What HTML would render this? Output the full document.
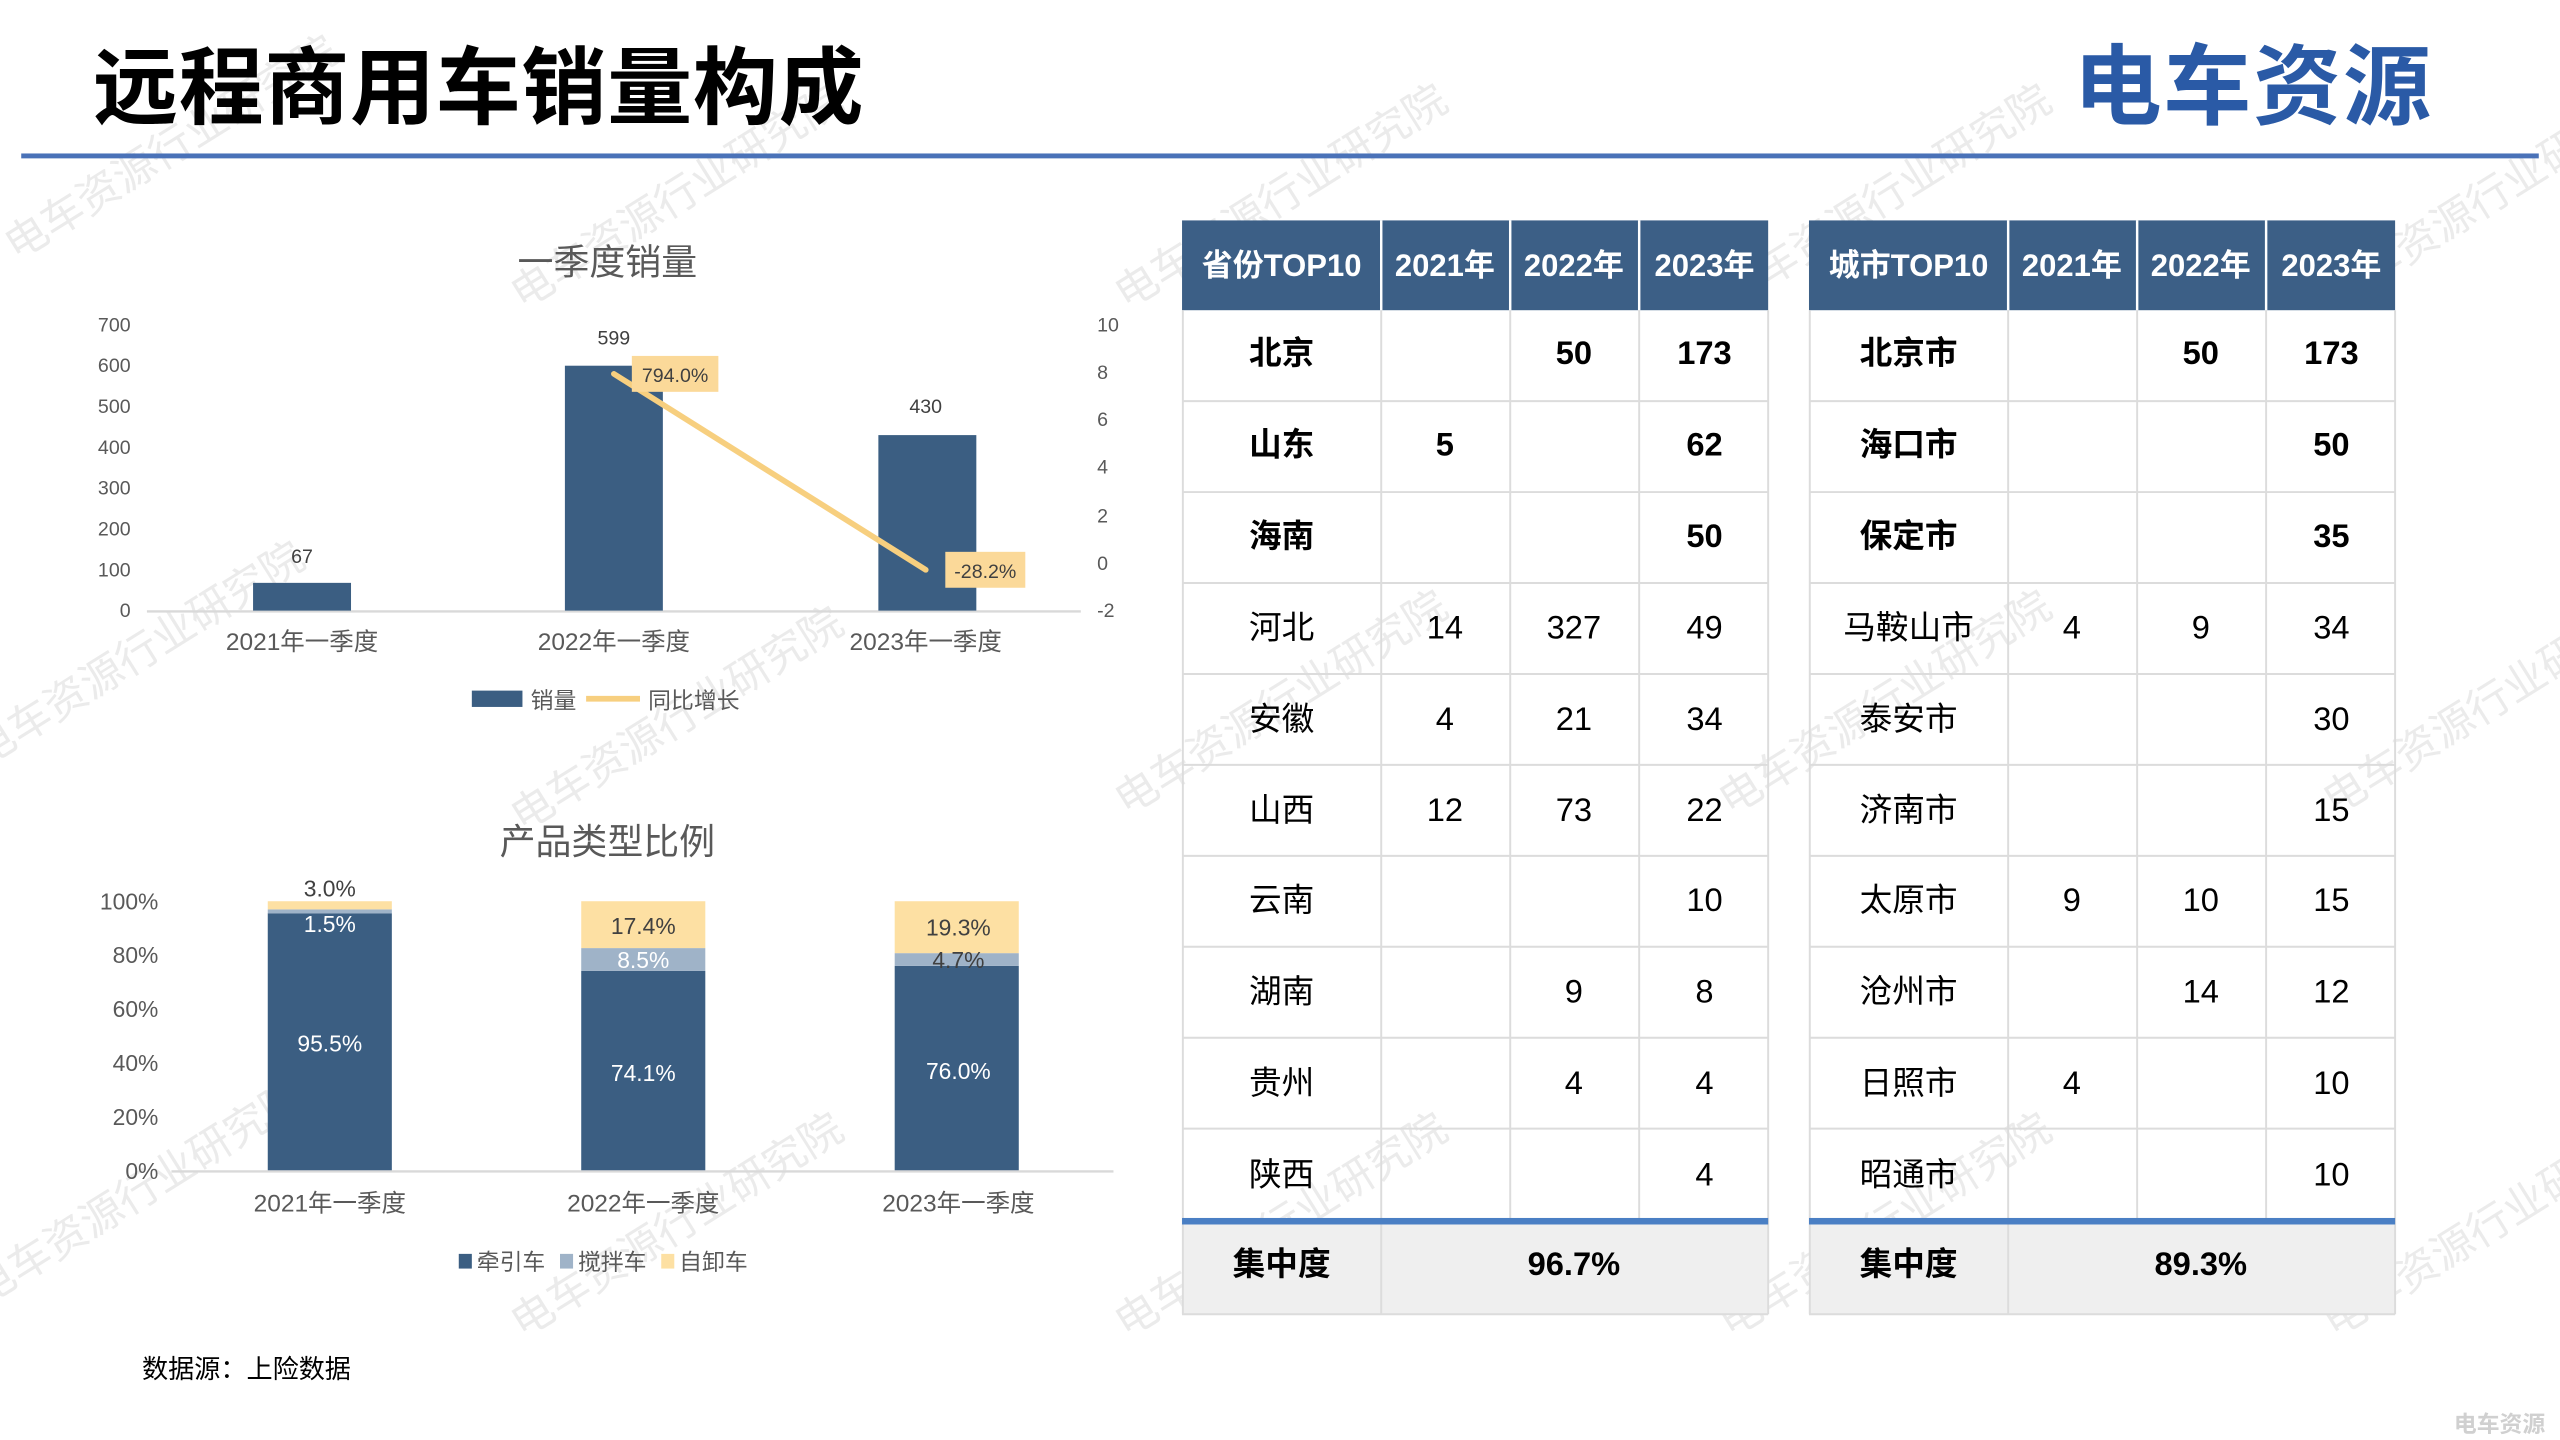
<!DOCTYPE html>
<html><head><meta charset="utf-8"><style>
html,body{margin:0;padding:0;background:#fff;width:2560px;height:1440px;overflow:hidden}
svg{display:block}
text{font-family:"Liberation Sans","Noto Sans CJK SC",sans-serif}
</style></head><body>
<svg width="2560" height="1440" viewBox="0 0 1568 882" xmlns="http://www.w3.org/2000/svg">
<rect width="1568" height="882" fill="#fff"/>
<!-- watermarks -->
<g fill="#ebebeb" font-size="26">
<text transform="translate(10,160) rotate(-32)">电车资源行业研究院</text>
<text transform="translate(320,190) rotate(-32)">电车资源行业研究院</text>
<text transform="translate(690,190) rotate(-32)">电车资源行业研究院</text>
<text transform="translate(1060,190) rotate(-32)">电车资源行业研究院</text>
<text transform="translate(1430,190) rotate(-32)">电车资源行业研究院</text>
<text transform="translate(-10,470) rotate(-32)">电车资源行业研究院</text>
<text transform="translate(320,510) rotate(-32)">电车资源行业研究院</text>
<text transform="translate(690,500) rotate(-32)">电车资源行业研究院</text>
<text transform="translate(1060,500) rotate(-32)">电车资源行业研究院</text>
<text transform="translate(1430,500) rotate(-32)">电车资源行业研究院</text>
<text transform="translate(-10,800) rotate(-32)">电车资源行业研究院</text>
<text transform="translate(320,820) rotate(-32)">电车资源行业研究院</text>
<text transform="translate(690,820) rotate(-32)">电车资源行业研究院</text>
<text transform="translate(1060,820) rotate(-32)">电车资源行业研究院</text>
<text transform="translate(1430,820) rotate(-32)">电车资源行业研究院</text>
</g>
<!-- header -->
<text x="57" y="72" font-size="52" font-weight="bold" fill="#000" letter-spacing="0.5">远程商用车销量构成</text>
<text x="1270" y="72" font-size="54" font-weight="bold" fill="#2a5aa6" letter-spacing="1">电车资源</text>
<rect x="13" y="94" width="1542" height="3" fill="#4a72b8"/>

<!-- Chart 1 -->
<text x="372" y="168" font-size="22" fill="#595959" text-anchor="middle">一季度销量</text>
<g font-size="12" fill="#595959" text-anchor="end">
<text x="80" y="203">700</text><text x="80" y="228">600</text><text x="80" y="253">500</text><text x="80" y="278">400</text><text x="80" y="303">300</text><text x="80" y="328">200</text><text x="80" y="353">100</text><text x="80" y="378">0</text>
</g>
<g font-size="12" fill="#595959" text-anchor="start">
<text x="672" y="203">10</text><text x="672" y="232">8</text><text x="672" y="261">6</text><text x="672" y="290">4</text><text x="672" y="320">2</text><text x="672" y="349">0</text><text x="672" y="378">-2</text>
</g>
<line x1="90" y1="374.5" x2="662" y2="374.5" stroke="#d9d9d9" stroke-width="1.5"/>
<g fill="#3b5e82">
<rect x="155" y="357" width="60" height="17"/>
<rect x="346" y="224" width="60" height="150"/>
<rect x="538" y="266.5" width="60" height="107.5"/>
</g>
<g font-size="12" fill="#404040" text-anchor="middle">
<text x="185" y="345">67</text><text x="376" y="211">599</text><text x="567" y="253">430</text>
</g>
<line x1="376" y1="229" x2="567" y2="349" stroke="#f7cf7f" stroke-width="3.5" stroke-linecap="round"/>
<rect x="387" y="218" width="53" height="22" fill="#fbd999"/>
<text x="413.5" y="234" font-size="12" fill="#404040" text-anchor="middle">794.0%</text>
<rect x="579" y="338" width="49" height="22" fill="#fbd999"/>
<text x="603.5" y="354" font-size="12" fill="#404040" text-anchor="middle">-28.2%</text>
<g font-size="15" fill="#595959" text-anchor="middle">
<text x="185" y="398">2021年一季度</text><text x="376" y="398">2022年一季度</text><text x="567" y="398">2023年一季度</text>
</g>
<rect x="289" y="423" width="31" height="10" fill="#3b5e82"/>
<text x="325" y="434" font-size="14" fill="#595959">销量</text>
<line x1="359" y1="428" x2="392" y2="428" stroke="#f7cf7f" stroke-width="3.5"/>
<text x="397" y="434" font-size="14" fill="#595959">同比增长</text>

<!-- Chart 2 -->
<text x="372" y="523" font-size="22" fill="#595959" text-anchor="middle">产品类型比例</text>
<g font-size="14" fill="#595959" text-anchor="end">
<text x="97" y="557">100%</text><text x="97" y="590">80%</text><text x="97" y="623">60%</text><text x="97" y="656">40%</text><text x="97" y="689">20%</text><text x="97" y="722">0%</text>
</g>
<rect x="164" y="559.4" width="76" height="157.6" fill="#3b5e82"/>
<rect x="164" y="557" width="76" height="2.5" fill="#9fb3c8"/>
<rect x="164" y="552" width="76" height="5" fill="#fde0a3"/>
<rect x="356" y="594.7" width="76" height="122.3" fill="#3b5e82"/>
<rect x="356" y="580.7" width="76" height="14" fill="#9fb3c8"/>
<rect x="356" y="552" width="76" height="28.7" fill="#fde0a3"/>
<rect x="548" y="591.6" width="76" height="125.4" fill="#3b5e82"/>
<rect x="548" y="583.8" width="76" height="7.8" fill="#9fb3c8"/>
<rect x="548" y="552" width="76" height="31.8" fill="#fde0a3"/>
<line x1="105" y1="717.5" x2="682" y2="717.5" stroke="#d9d9d9" stroke-width="1.5"/>
<g font-size="14" text-anchor="middle">
<text x="202" y="549" fill="#404040">3.0%</text>
<text x="202" y="571" fill="#fff">1.5%</text>
<text x="202" y="644" fill="#fff">95.5%</text>
<text x="394" y="572" fill="#404040">17.4%</text>
<text x="394" y="593" fill="#fff">8.5%</text>
<text x="394" y="662" fill="#fff">74.1%</text>
<text x="587" y="573" fill="#404040">19.3%</text>
<text x="587" y="593" fill="#404040">4.7%</text>
<text x="587" y="661" fill="#fff">76.0%</text>
</g>
<g font-size="15" fill="#595959" text-anchor="middle">
<text x="202" y="742">2021年一季度</text><text x="394" y="742">2022年一季度</text><text x="587" y="742">2023年一季度</text>
</g>
<rect x="281" y="768" width="8" height="9" fill="#3b5e82"/>
<text x="292" y="778" font-size="14" fill="#595959">牵引车</text>
<rect x="343" y="768" width="8" height="9" fill="#9fb3c8"/>
<text x="354" y="778" font-size="14" fill="#595959">搅拌车</text>
<rect x="405" y="768" width="8" height="9" fill="#fde0a3"/>
<text x="416" y="778" font-size="14" fill="#595959">自卸车</text>
<text x="87" y="844" font-size="16" fill="#000">数据源：上险数据</text>

<!-- Tables -->
<g>
<rect x="724" y="135" width="359" height="55" fill="#3c5f86"/>
<rect x="1108" y="135" width="359" height="55" fill="#3c5f86"/>
<rect x="724" y="750" width="359" height="55" fill="#efefef"/>
<rect x="1108" y="750" width="359" height="55" fill="#efefef"/>
<g stroke="#dcdcdc" stroke-width="1.2">
<line x1="724" y1="245.7" x2="1083" y2="245.7"/><line x1="724" y1="301.4" x2="1083" y2="301.4"/><line x1="724" y1="357.1" x2="1083" y2="357.1"/><line x1="724" y1="412.8" x2="1083" y2="412.8"/><line x1="724" y1="468.5" x2="1083" y2="468.5"/><line x1="724" y1="524.2" x2="1083" y2="524.2"/><line x1="724" y1="579.9" x2="1083" y2="579.9"/><line x1="724" y1="635.6" x2="1083" y2="635.6"/><line x1="724" y1="691.3" x2="1083" y2="691.3"/>
<line x1="1108" y1="245.7" x2="1467" y2="245.7"/><line x1="1108" y1="301.4" x2="1467" y2="301.4"/><line x1="1108" y1="357.1" x2="1467" y2="357.1"/><line x1="1108" y1="412.8" x2="1467" y2="412.8"/><line x1="1108" y1="468.5" x2="1467" y2="468.5"/><line x1="1108" y1="524.2" x2="1467" y2="524.2"/><line x1="1108" y1="579.9" x2="1467" y2="579.9"/><line x1="1108" y1="635.6" x2="1467" y2="635.6"/><line x1="1108" y1="691.3" x2="1467" y2="691.3"/>
<line x1="724.5" y1="190" x2="724.5" y2="805"/><line x1="846" y1="190" x2="846" y2="805"/><line x1="925" y1="190" x2="925" y2="747"/><line x1="1004" y1="190" x2="1004" y2="747"/><line x1="1083" y1="190" x2="1083" y2="805"/>
<line x1="1108.5" y1="190" x2="1108.5" y2="805"/><line x1="1230" y1="190" x2="1230" y2="805"/><line x1="1309" y1="190" x2="1309" y2="747"/><line x1="1388" y1="190" x2="1388" y2="747"/><line x1="1467" y1="190" x2="1467" y2="805"/>
<line x1="724" y1="805" x2="1083" y2="805"/><line x1="1108" y1="805" x2="1467" y2="805"/>
</g>
<g stroke="#fff" stroke-width="1.5">
<line x1="846" y1="135" x2="846" y2="190"/><line x1="925" y1="135" x2="925" y2="190"/><line x1="1004" y1="135" x2="1004" y2="190"/>
<line x1="1230" y1="135" x2="1230" y2="190"/><line x1="1309" y1="135" x2="1309" y2="190"/><line x1="1388" y1="135" x2="1388" y2="190"/>
</g>
<rect x="724" y="746" width="359" height="4" fill="#4a7fc4"/>
<rect x="1108" y="746" width="359" height="4" fill="#4a7fc4"/>
<g font-size="19" font-weight="bold" fill="#fff" text-anchor="middle">
<text x="785" y="169">省份TOP10</text><text x="885" y="169">2021年</text><text x="964" y="169">2022年</text><text x="1044" y="169">2023年</text>
<text x="1169" y="169">城市TOP10</text><text x="1269" y="169">2021年</text><text x="1348" y="169">2022年</text><text x="1428" y="169">2023年</text>
</g>
<g font-size="20" fill="#000" text-anchor="middle">
<g font-weight="bold">
<text x="785" y="223">北京</text><text x="964" y="223">50</text><text x="1044" y="223">173</text>
<text x="785" y="279">山东</text><text x="885" y="279">5</text><text x="1044" y="279">62</text>
<text x="785" y="335">海南</text><text x="1044" y="335">50</text>
<text x="1169" y="223">北京市</text><text x="1348" y="223">50</text><text x="1428" y="223">173</text>
<text x="1169" y="279">海口市</text><text x="1428" y="279">50</text>
<text x="1169" y="335">保定市</text><text x="1428" y="335">35</text>
<text x="785" y="781">集中度</text><text x="964" y="781">96.7%</text>
<text x="1169" y="781">集中度</text><text x="1348" y="781">89.3%</text>
</g>
<text x="785" y="391">河北</text><text x="885" y="391">14</text><text x="964" y="391">327</text><text x="1044" y="391">49</text>
<text x="785" y="447">安徽</text><text x="885" y="447">4</text><text x="964" y="447">21</text><text x="1044" y="447">34</text>
<text x="785" y="503">山西</text><text x="885" y="503">12</text><text x="964" y="503">73</text><text x="1044" y="503">22</text>
<text x="785" y="558">云南</text><text x="1044" y="558">10</text>
<text x="785" y="614">湖南</text><text x="964" y="614">9</text><text x="1044" y="614">8</text>
<text x="785" y="670">贵州</text><text x="964" y="670">4</text><text x="1044" y="670">4</text>
<text x="785" y="726">陕西</text><text x="1044" y="726">4</text>
<text x="1169" y="391">马鞍山市</text><text x="1269" y="391">4</text><text x="1348" y="391">9</text><text x="1428" y="391">34</text>
<text x="1169" y="447">泰安市</text><text x="1428" y="447">30</text>
<text x="1169" y="503">济南市</text><text x="1428" y="503">15</text>
<text x="1169" y="558">太原市</text><text x="1269" y="558">9</text><text x="1348" y="558">10</text><text x="1428" y="558">15</text>
<text x="1169" y="614">沧州市</text><text x="1348" y="614">14</text><text x="1428" y="614">12</text>
<text x="1169" y="670">日照市</text><text x="1269" y="670">4</text><text x="1428" y="670">10</text>
<text x="1169" y="726">昭通市</text><text x="1428" y="726">10</text>
</g>
</g>
<text x="1503" y="877" font-size="14" font-weight="bold" fill="#d0d0d0">电车资源</text>
</svg>
</body></html>
